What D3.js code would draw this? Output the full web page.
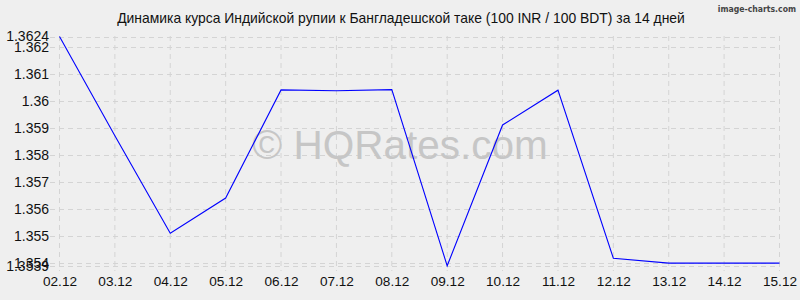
<!DOCTYPE html>
<html>
<head>
<meta charset="utf-8">
<script src="https://cdn.jsdelivr.net/npm/d3@7"></script>
<style>
  body { margin: 0; background: #efefef; }
  svg { display: block; font-family: "Liberation Sans", Arial, sans-serif; }
</style>
</head>
<body>
<svg width="800" height="300"></svg>
<script>
var dates = ['02.12', '03.12', '04.12', '05.12', '06.12', '07.12', '08.12', '09.12', '10.12', '11.12', '12.12', '13.12', '14.12', '15.12'];
var rates = [1.3624, 1.35872, 1.35511, 1.35641, 1.36042, 1.36039, 1.36043, 1.3539, 1.35912, 1.36041, 1.35418, 1.35400, 1.35400, 1.35400];
var yTicks = [1.354, 1.355, 1.356, 1.357, 1.358, 1.359, 1.36, 1.361, 1.362];
var yExtra = [1.3539, 1.3624];
var title = 'Динамика курса Индийской рупии к Бангладешской таке (100 INR / 100 BDT) за 14 дней';

var svg = d3.select('svg');
svg.append('rect').attr('width', 800).attr('height', 300).attr('fill', '#efefef');

var x = d3.scalePoint().domain(dates).range([59.5, 779.5]);
var y = d3.scaleLinear().domain([1.3539, 1.3624]).range([265.8, 36.5]);

var grid = '#d4d4d4';

// horizontal grid
var allY = yTicks.concat(yExtra);
svg.append('g').selectAll('line').data(allY).enter().append('line')
  .attr('x1', 50).attr('x2', 780)
  .attr('y1', function (d) { return Math.round(y(d)) + 0.5; })
  .attr('y2', function (d) { return Math.round(y(d)) + 0.5; })
  .attr('stroke', grid).attr('stroke-dasharray', '5,4');

// vertical grid
svg.append('g').selectAll('line').data(dates).enter().append('line')
  .attr('x1', function (d) { return x(d); }).attr('x2', function (d) { return x(d); })
  .attr('y1', 36).attr('y2', 271)
  .attr('stroke', grid).attr('stroke-dasharray', '5,4');

// watermark
svg.append('text').attr('x', 400).attr('y', 159).attr('text-anchor', 'middle')
  .attr('font-size', 40.5).attr('fill', '#c6c6c6').text('© HQRates.com');

// y labels
var yAxis = d3.axisLeft(y).tickValues(allY).tickSize(0).tickPadding(0)
  .tickFormat(function (d) { return String(+d.toFixed(4)); });
var gy = svg.append('g').attr('transform', 'translate(49,0)').call(yAxis);
gy.select('.domain').remove();
gy.selectAll('text').attr('font-size', 14).attr('fill', '#111')
  .attr('font-family', '"Liberation Sans", Arial, sans-serif');

// x labels
var xAxis = d3.axisBottom(x).tickSize(0).tickPadding(0);
var gx = svg.append('g').attr('transform', 'translate(0,276.5)').call(xAxis);
gx.select('.domain').remove();
gx.selectAll('text').attr('font-size', 13.6).attr('fill', '#111')
  .attr('font-family', '"Liberation Sans", Arial, sans-serif');

// line
var line = d3.line()
  .x(function (d, i) { return x(dates[i]); })
  .y(function (d) { return y(d); });
svg.append('path').datum(rates).attr('d', line)
  .attr('fill', 'none').attr('stroke', '#0000ff').attr('stroke-width', 1.1);

// title
svg.append('text').attr('x', 401).attr('y', 23).attr('text-anchor', 'middle')
  .attr('font-size', 13.9).attr('fill', '#111').text(title);

svg.append('text').attr('x', 796).attr('y', 12).attr('text-anchor', 'end')
  .attr('font-size', 8.6).attr('fill', '#444').attr('font-weight', 'bold')
  .attr('font-family', '"DejaVu Sans Condensed", "DejaVu Sans", sans-serif')
  .text('image-charts.com');
</script>
</body>
</html>
